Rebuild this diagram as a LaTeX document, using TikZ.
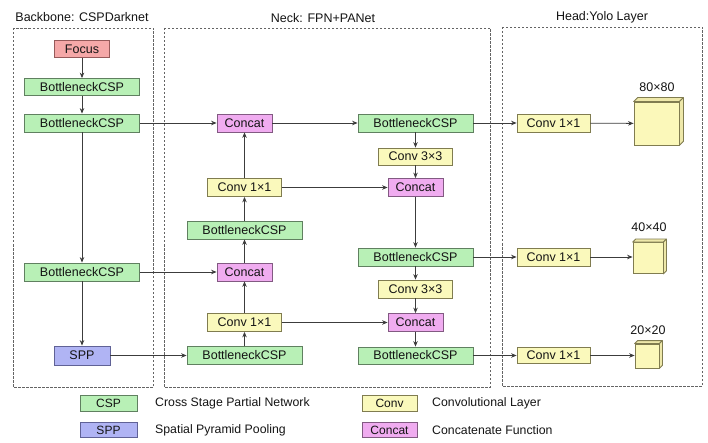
\documentclass[tikz,border=0pt]{standalone}
\usepackage{fontspec}
\setmainfont{Liberation Sans}
\usetikzlibrary{arrows.meta,calc}

\definecolor{cspfill}{RGB}{184,240,182}
\definecolor{cspline}{RGB}{96,128,96}
\definecolor{convfill}{RGB}{250,249,188}
\definecolor{convline}{RGB}{128,124,80}
\definecolor{catfill}{RGB}{240,172,240}
\definecolor{catline}{RGB}{130,90,130}
\definecolor{sppfill}{RGB}{176,180,244}
\definecolor{sppline}{RGB}{96,98,150}
\definecolor{focfill}{RGB}{245,168,168}
\definecolor{focline}{RGB}{150,90,90}
\definecolor{cubefill}{RGB}{251,248,186}
\definecolor{cubeside}{RGB}{238,232,170}
\definecolor{wire}{RGB}{60,60,60}
\definecolor{frame}{RGB}{100,100,100}
\definecolor{ink}{RGB}{20,20,20}

\tikzset{
  blk/.style={draw, line width=0.8pt, inner sep=0pt, text=ink,
    font=\fontsize{12.5}{14}\selectfont, minimum height=18pt},
  csp/.style={blk, fill=cspfill, draw=cspline, minimum width=115pt},
  conv/.style={blk, fill=convfill, draw=convline, minimum width=74pt},
  cat/.style={blk, fill=catfill, draw=catline, minimum width=55pt},
  spp/.style={blk, fill=sppfill, draw=sppline, minimum width=56pt},
  foc/.style={blk, fill=focfill, draw=focline, minimum width=55pt},
  legbox/.style={minimum height=15.5pt, font=\fontsize{12}{14}\selectfont},
  legtext/.style={anchor=west, inner sep=0pt, text=ink, font=\fontsize{12.3}{14}\selectfont},
  region/.style={draw=frame, line width=0.7pt, dash pattern=on 2.5pt off 1.5pt},
  title/.style={text=ink, inner sep=0pt, font=\fontsize{12.5}{14}\selectfont},
  link/.style={draw=wire, line width=0.8pt, -{Stealth[length=5.5pt,width=4.5pt]}},
  cube/.style={draw=convline, line width=0.8pt, fill=cubefill, inner sep=0pt},
  cubeface/.style={draw=convline, line width=0.8pt, fill=cubeside, line join=round},
  dimlabel/.style={text=ink, inner sep=0pt, font=\fontsize{12.5}{14}\selectfont},
}

\begin{document}
\begin{tikzpicture}[x=1pt,y=-1pt]
\useasboundingbox (0,0) rectangle (708,443);

% section frames
\draw[region] (13,28) rectangle (153,387);
\draw[region] (164,28) rectangle (490,387);
\draw[region] (502,27) rectangle (702,386);
\node[title] (tback) at (82,17) {Backbone: CSPDarknet};
\node[title] (tneck) at (323,18) {Neck: FPN+PANet};
\node[title] (thead) at (602,17) {Head:Yolo Layer};

% backbone
\node[foc, minimum height=17pt] (focus) at (82,49) {Focus};
\node[csp, minimum height=17pt] (b1) at (82,87) {BottleneckCSP};
\node[csp] (b2) at (82,123) {BottleneckCSP};
\node[csp] (b3) at (82,272) {BottleneckCSP};
\node[spp, minimum height=19pt] (spp) at (82,355.5) {SPP};

% neck, left column
\node[cat] (c1) at (244.5,123) {Concat};
\node[conv] (k1a) at (244.5,187.5) {Conv 1×1};
\node[csp] (nb2) at (244.5,230) {BottleneckCSP};
\node[cat] (c3) at (244.5,272) {Concat};
\node[conv] (k1b) at (244.5,322.5) {Conv 1×1};
\node[csp] (nb3) at (244.5,355.5) {BottleneckCSP};

% neck, right column
\node[csp] (nb1) at (415.5,123) {BottleneckCSP};
\node[conv, minimum height=17pt] (k3a) at (415.5,156.5) {Conv 3×3};
\node[cat] (c2) at (415.5,187.5) {Concat};
\node[csp] (nb4) at (415.5,257) {BottleneckCSP};
\node[conv] (k3b) at (415.5,289) {Conv 3×3};
\node[cat] (c4) at (415.5,322.5) {Concat};
\node[csp, minimum height=17pt] (nb5) at (415.5,355.5) {BottleneckCSP};

% head
\node[conv, minimum width=73pt] (h1) at (553.5,123) {Conv 1×1};
\node[conv, minimum width=73pt] (h2) at (553.5,257) {Conv 1×1};
\node[conv, minimum width=73pt, minimum height=16pt] (h3) at (553.5,355.5) {Conv 1×1};

\node[cube, minimum width=45pt, minimum height=43pt] (q80) at (656.5,123.5) {};
\node[cube, minimum width=30pt, minimum height=31pt] (q40) at (648,258) {};
\node[cube, minimum width=24pt, minimum height=24pt] (q20) at (647,356) {};
\foreach \q/\d in {q80/4,q40/3,q20/3}{
  \draw[cubeface] (\q.north west) -- ++(\d,-\d) -- ($(\q.north east)+(\d,-\d)$) -- (\q.north east) -- cycle;
  \draw[cubeface] (\q.north east) -- ++(\d,-\d) -- ($(\q.south east)+(\d,-\d)$) -- (\q.south east) -- cycle;
}
\node[dimlabel] (l80) at (657,87) {80×80};
\node[dimlabel] (l40) at (649,227) {40×40};
\node[dimlabel] (l20) at (648,330) {20×20};

% backbone flow
\draw[link] (focus) -- (b1);
\draw[link] (b1) -- (b2);
\draw[link] (b2) -- (b3);
\draw[link] (b3) -- (spp);

% backbone to neck
\draw[link] (b2) -- (c1);
\draw[link] (b3) -- (c3);
\draw[link] (spp) -- (nb3);

% top-down path
\draw[link] (nb3) -- (k1b);
\draw[link] (k1b) -- (c3);
\draw[link] (c3) -- (nb2);
\draw[link] (nb2) -- (k1a);
\draw[link] (k1a) -- (c1);

% lateral links
\draw[link] (c1) -- (nb1);
\draw[link] (k1a) -- (c2);
\draw[link] (k1b) -- (c4);

% bottom-up path
\draw[link] (nb1) -- (k3a);
\draw[link] (k3a) -- (c2);
\draw[link] (c2) -- (nb4);
\draw[link] (nb4) -- (k3b);
\draw[link] (k3b) -- (c4);
\draw[link] (c4) -- (nb5);

% neck to head
\draw[link] (nb1) -- (h1);
\draw[link] (nb4) -- (h2);
\draw[link] (nb5) -- (h3);
\draw[link] (h1) -- (q80);
\draw[link] (h2) -- (q40.west |- h2);
\draw[link] (h3) -- (q20.west |- h3);

% legend
\node[csp, legbox, minimum width=57pt] (kcsp) at (108.5,403.5) {CSP};
\node[spp, legbox, minimum width=57pt] (kspp) at (108.5,430) {SPP};
\node[conv, legbox, minimum width=55pt] (kconv) at (389.5,403.5) {Conv};
\node[cat, legbox, minimum width=55pt] (kcat) at (389.5,430) {Concat};
\node[legtext] (dcsp) at (155,403.5) {Cross Stage Partial Network};
\node[legtext] (dspp) at (155,430) {Spatial Pyramid Pooling};
\node[legtext] (dconv) at (432,403.5) {Convolutional Layer};
\node[legtext] (dcat) at (432,430) {Concatenate Function};
\end{tikzpicture}
\end{document}
